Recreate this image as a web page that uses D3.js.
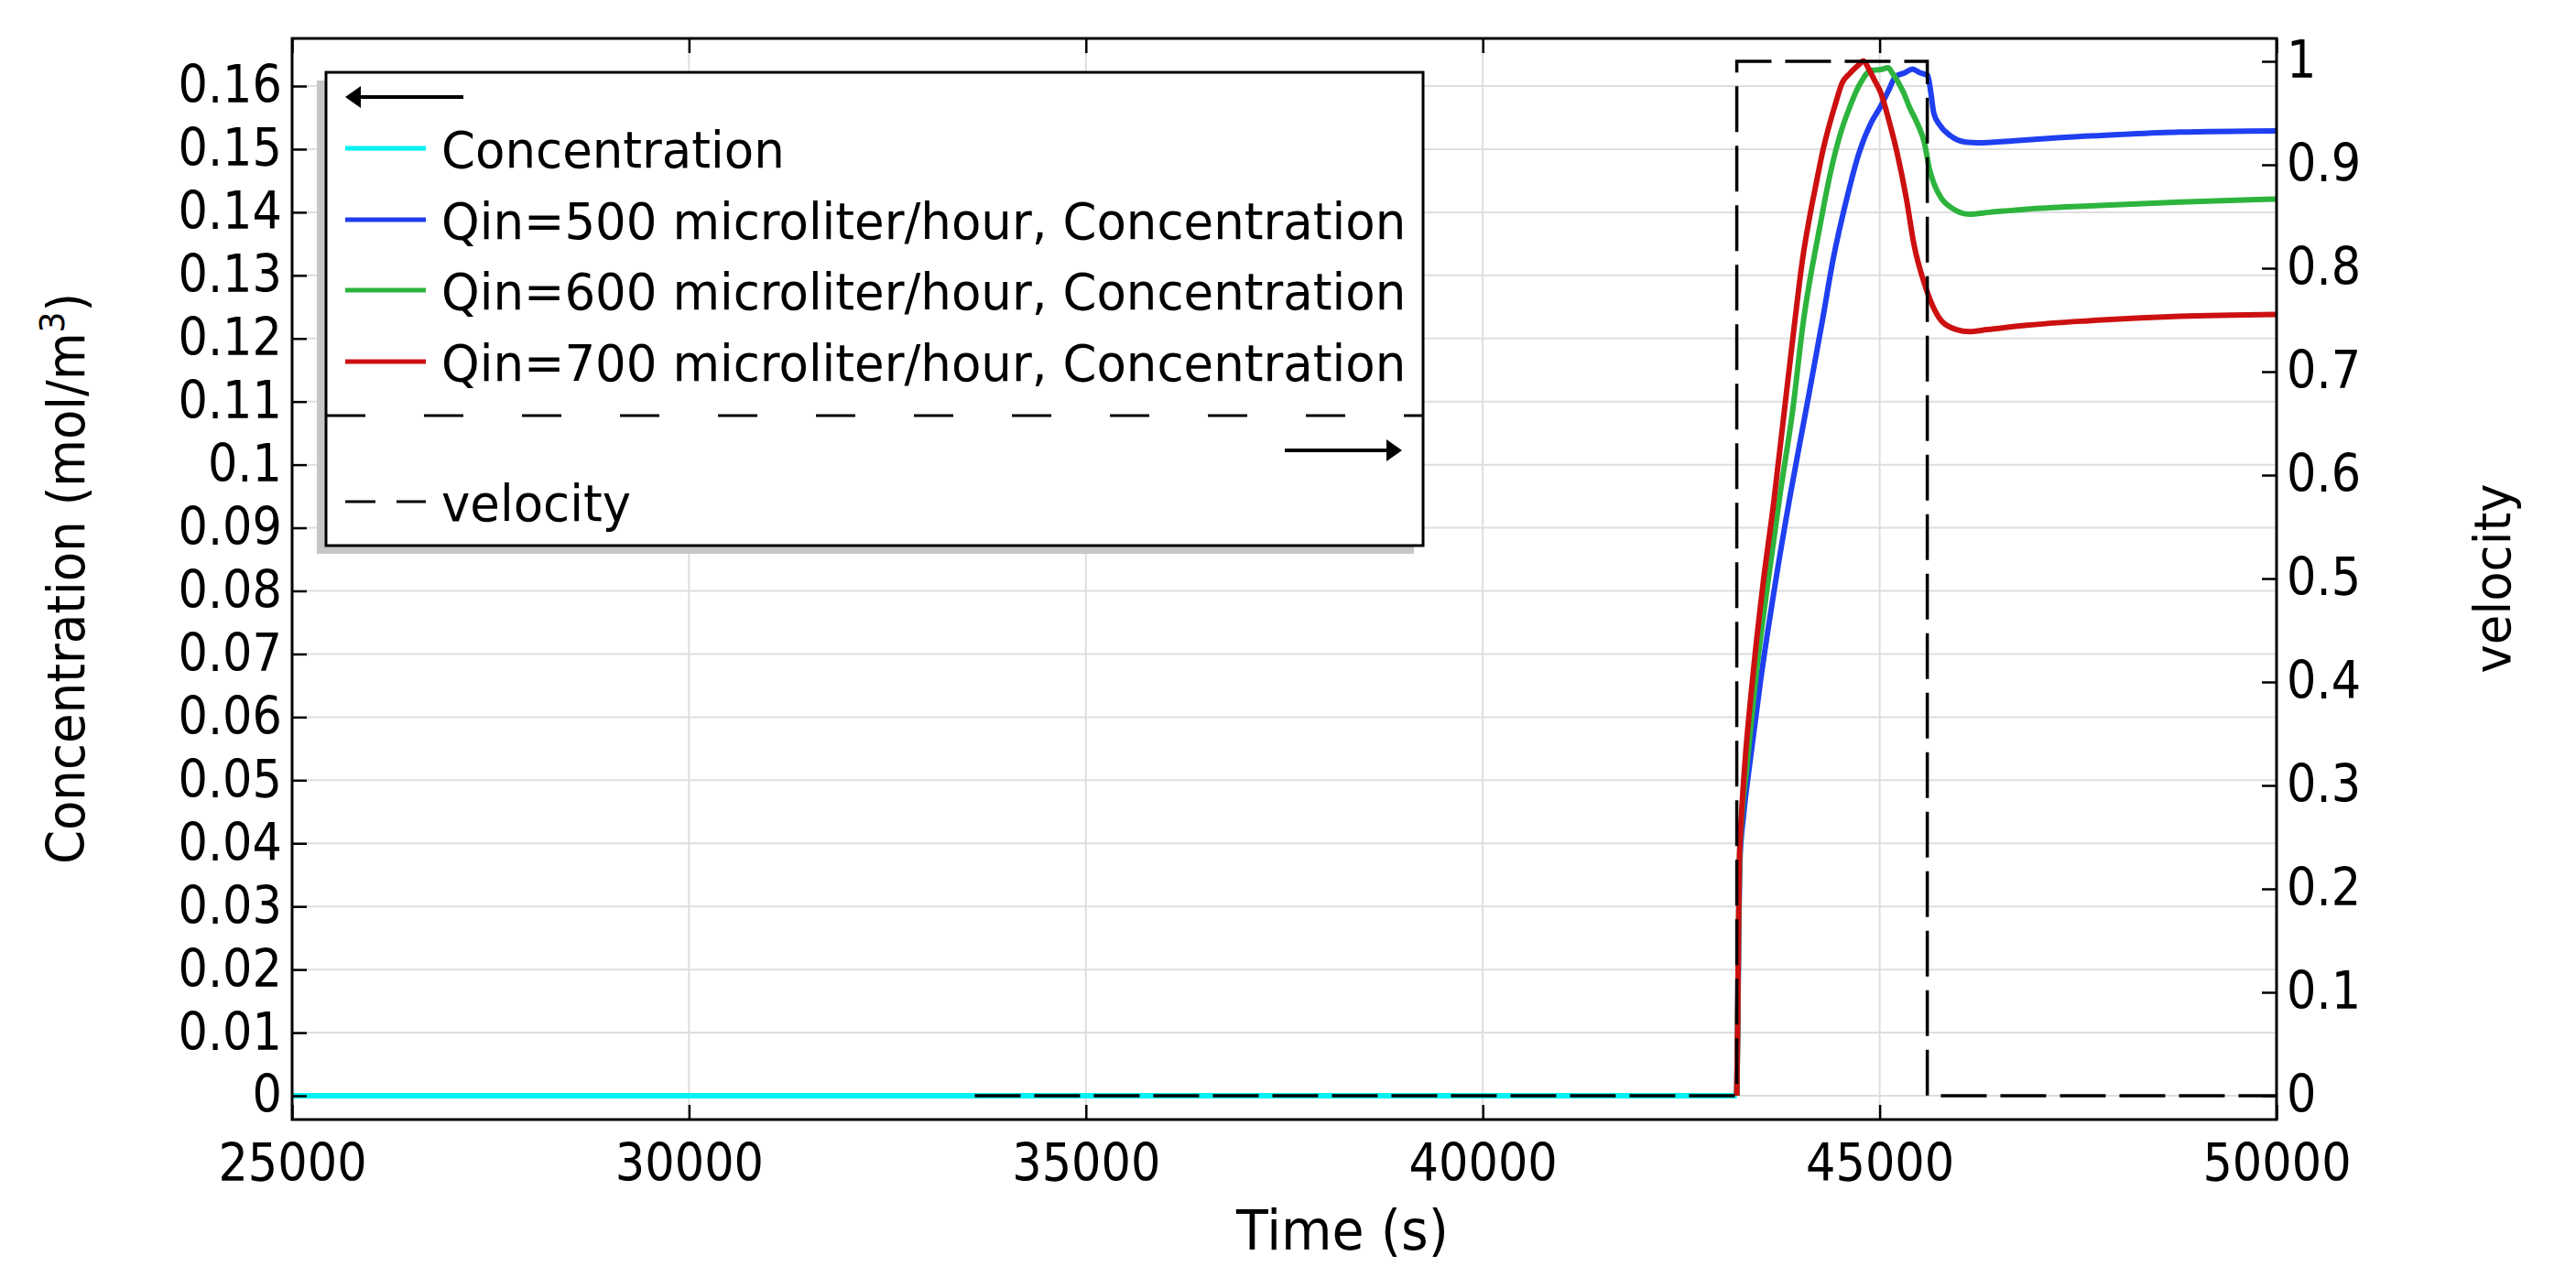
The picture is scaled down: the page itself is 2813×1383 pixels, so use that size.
<!DOCTYPE html>
<html>
<head>
<meta charset="utf-8">
<script src="https://cdn.jsdelivr.net/npm/d3@7"></script>
<style>
  html, body { margin: 0; padding: 0; background: #fff; }
  svg { display: block; font-family: "DejaVu Sans", Verdana, sans-serif; }
</style>
</head>
<body>
<svg id="chart" width="2813" height="1383"></svg>
<script>
// tick values
const timeTicks = [25000, 30000, 35000, 40000, 45000, 50000];
const concTicks = [0, 0.01, 0.02, 0.03, 0.04, 0.05, 0.06, 0.07, 0.08, 0.09, 0.1,
                   0.11, 0.12, 0.13, 0.14, 0.15, 0.16];
const velTicks = [0, 0.1, 0.2, 0.3, 0.4, 0.5, 0.6, 0.7, 0.8, 0.9, 1];

// series, [time (s), value]
const concBase = [[25000, 0], [43200, 0]];

const qin500 = [[43200, 0], [43213, 0.012], [43224, 0.025], [43238, 0.037], [43286, 0.0445],
  [43355, 0.0518], [43505, 0.0663], [43680, 0.0808], [43875, 0.0953], [44067, 0.1083],
  [44278, 0.1228], [44413, 0.1325], [44586, 0.1422], [44740, 0.1494], [44893, 0.1542],
  [45009, 0.1567], [45105, 0.1591], [45201, 0.1615], [45316, 0.1621], [45413, 0.1627],
  [45509, 0.1621], [45605, 0.1617], [45643, 0.1591], [45682, 0.1557], [45759, 0.1538],
  [45893, 0.1521], [46086, 0.1511], [46240, 0.151], [46663, 0.1513], [47240, 0.1518],
  [48009, 0.1523], [48778, 0.1527], [50000, 0.1529]];

const qin600 = [[43200, 0], [43212, 0.012], [43222, 0.025], [43234, 0.037], [43265, 0.0445],
  [43324, 0.0518], [43440, 0.0663], [43586, 0.0808], [43745, 0.0953], [43901, 0.1083],
  [44040, 0.1228], [44240, 0.1373], [44393, 0.147], [44490, 0.1518], [44624, 0.1567],
  [44759, 0.1605], [44893, 0.1625], [45009, 0.1626], [45105, 0.1629], [45163, 0.162],
  [45297, 0.1591], [45374, 0.1567], [45470, 0.1542], [45566, 0.1509], [45624, 0.147],
  [45682, 0.1446], [45778, 0.1422], [45932, 0.1405], [46124, 0.1397], [46393, 0.14],
  [46855, 0.1405], [47624, 0.141], [48778, 0.1416], [50000, 0.1421]];

const qin700 = [[43200, 0], [43212, 0.012], [43220, 0.025], [43232, 0.037], [43259, 0.0445],
  [43297, 0.0518], [43401, 0.0663], [43528, 0.0808], [43663, 0.0938], [43797, 0.1083],
  [43932, 0.1228], [44028, 0.1325], [44124, 0.1397], [44201, 0.1446], [44278, 0.1494],
  [44374, 0.1542], [44432, 0.1567], [44528, 0.1605], [44624, 0.162], [44740, 0.1634],
  [44797, 0.164], [44855, 0.1629], [44932, 0.161], [45009, 0.1591], [45124, 0.1542],
  [45220, 0.1494], [45336, 0.1422], [45432, 0.1349], [45566, 0.1286], [45663, 0.1253],
  [45778, 0.1228], [45970, 0.1214], [46124, 0.1211], [46355, 0.1214], [46855, 0.1221],
  [47624, 0.1228], [48778, 0.1235], [50000, 0.1238]];

const velocity = [[33600, 0], [43200, 0], [43200, 1], [45600, 1], [45600, 0], [50000, 0]];

const seriesNames = ['Concentration',
  'Qin=500 microliter/hour, Concentration',
  'Qin=600 microliter/hour, Concentration',
  'Qin=700 microliter/hour, Concentration'];
const seriesColors = ['#00f2f2', '#1f3ff0', '#2db43d', '#cc1010'];

const svg = d3.select('#chart');

// plot box
const L = 319, R = 2486, T = 42, B = 1223;

const x = d3.scaleLinear().domain([25000, 50000]).range([L, R]);
const yL = d3.scaleLinear().domain([0, 0.16]).range([1197, 94]);
const yR = d3.scaleLinear().domain([0, 1]).range([1197, 67]);

// the reference lettering is a bit taller than it is wide
function stretch(sel, sy) {
  sel.each(function() {
    const t = d3.select(this);
    const tx = +t.attr('x') || 0, ty = +t.attr('y') || 0;
    const prev = t.attr('transform') || '';
    t.attr('x', 0).attr('y', 0)
      .attr('transform', `${prev} translate(${tx},${ty}) scale(1,${sy})`);
  });
}

// grid
const grid = svg.append('g').attr('stroke', '#dedede').attr('stroke-width', 2);
grid.selectAll('line.h').data(concTicks).enter().append('line')
  .attr('x1', L).attr('x2', R)
  .attr('y1', d => yL(d)).attr('y2', d => yL(d));
grid.selectAll('line.v').data(timeTicks.slice(1, -1)).enter().append('line')
  .attr('y1', T).attr('y2', B)
  .attr('x1', d => x(d)).attr('x2', d => x(d));

// lines
const lineC = d3.line().curve(d3.curveMonotoneX).x(d => x(d[0])).y(d => yL(d[1]));
const lineV = d3.line().x(d => x(d[0])).y(d => yR(d[1]));

const concSeries = [concBase, qin500, qin600, qin700];
svg.append('g').selectAll('path')
  .data(concSeries)
  .enter()
  .append('path')
  .attr('d', lineC)
  .attr('fill', 'none')
  .attr('stroke', (d, i) => seriesColors[i])
  .attr('stroke-width', 6)
  .attr('stroke-linejoin', 'round');

svg.append('path')
  .datum(velocity)
  .attr('d', lineV)
  .attr('fill', 'none')
  .attr('stroke', '#000')
  .attr('stroke-width', 3.5)
  .attr('stroke-dasharray', '50,15');

// axes, ticks pointing inward
function styleAxis(g) {
  g.select('.domain').remove();
  g.selectAll('.tick line').attr('stroke', '#000').attr('stroke-width', 2.5);
  g.selectAll('.tick text').attr('fill', '#000').attr('font-size', 51)
    .attr('font-family', '"DejaVu Sans", Verdana, sans-serif')
    .call(stretch, 1.1);
}

svg.append('g')
  .attr('transform', `translate(0,${B})`)
  .call(d3.axisBottom(x).tickValues(timeTicks).tickFormat(d => String(d))
    .tickSizeInner(-16).tickSizeOuter(0).tickPadding(27))
  .call(styleAxis);

svg.append('g')
  .attr('transform', `translate(0,${T})`)
  .call(d3.axisTop(x).tickValues(timeTicks).tickFormat('')
    .tickSizeInner(-16).tickSizeOuter(0))
  .call(styleAxis);

svg.append('g')
  .attr('transform', `translate(${L},0)`)
  .call(d3.axisLeft(yL).tickValues(concTicks).tickFormat(d => String(d))
    .tickSizeInner(-16).tickSizeOuter(0).tickPadding(11))
  .call(styleAxis);

svg.append('g')
  .attr('transform', `translate(${R},0)`)
  .call(d3.axisRight(yR).tickValues(velTicks).tickFormat(d => String(d))
    .tickSizeInner(-16).tickSizeOuter(0).tickPadding(11))
  .call(styleAxis);

// frame
svg.append('rect')
  .attr('x', L).attr('y', T)
  .attr('width', R - L).attr('height', B - T)
  .attr('fill', 'none').attr('stroke', '#000').attr('stroke-width', 3);

// axis titles
svg.append('text')
  .attr('x', 1466).attr('y', 1365)
  .attr('text-anchor', 'middle')
  .attr('font-size', 57)
  .text('Time (s)')
  .call(stretch, 1.05);

const yt = svg.append('text')
  .attr('transform', 'translate(92,632) rotate(-90)')
  .attr('text-anchor', 'middle')
  .attr('font-size', 53);
yt.append('tspan').text('Concentration (mol/m');
yt.append('tspan').attr('baseline-shift', 'super').attr('font-size', 36).text('3');
yt.append('tspan').text(')');
yt.call(stretch, 1.06);

svg.append('text')
  .attr('transform', 'translate(2741,632) rotate(-90)')
  .attr('text-anchor', 'middle')
  .attr('font-size', 53)
  .text('velocity')
  .call(stretch, 1.05);

// legend
const lg = svg.append('g');
const lx = 356, ly = 79, lw = 1198, lh = 517;
lg.append('rect').attr('x', lx - 10).attr('y', ly + 9)
  .attr('width', lw).attr('height', lh).attr('fill', '#c6c6c6');
lg.append('rect').attr('x', lx).attr('y', ly)
  .attr('width', lw).attr('height', lh)
  .attr('fill', '#fff').attr('stroke', '#000').attr('stroke-width', 3);

function arrow(x1, x2, y) {
  const dir = x2 > x1 ? 1 : -1;
  lg.append('line').attr('x1', x1).attr('x2', x2 - dir * 10)
    .attr('y1', y).attr('y2', y).attr('stroke', '#000').attr('stroke-width', 4);
  lg.append('path')
    .attr('d', `M${x2},${y} L${x2 - dir * 17},${y - 12} L${x2 - dir * 17},${y + 12} Z`)
    .attr('fill', '#000');
}
arrow(506, 377, 106);

const rowY = [162, 240, 317, 395];
seriesNames.forEach((name, i) => {
  lg.append('line').attr('x1', 377).attr('x2', 465)
    .attr('y1', rowY[i]).attr('y2', rowY[i])
    .attr('stroke', seriesColors[i]).attr('stroke-width', 5);
  lg.append('text').attr('x', 482).attr('y', rowY[i] + 21)
    .attr('font-size', 53).text(name)
    .call(stretch, 1.05);
});

lg.append('line').attr('x1', lx).attr('x2', lx + lw)
  .attr('y1', 454).attr('y2', 454)
  .attr('stroke', '#000').attr('stroke-width', 3)
  .attr('stroke-dasharray', '43,64');

arrow(1403, 1531, 492);

lg.append('line').attr('x1', 377).attr('x2', 465)
  .attr('y1', 548).attr('y2', 548)
  .attr('stroke', '#000').attr('stroke-width', 3)
  .attr('stroke-dasharray', '33,23');
lg.append('text').attr('x', 482).attr('y', 569)
  .attr('font-size', 53).text('velocity')
  .call(stretch, 1.05);
</script>
</body>
</html>
